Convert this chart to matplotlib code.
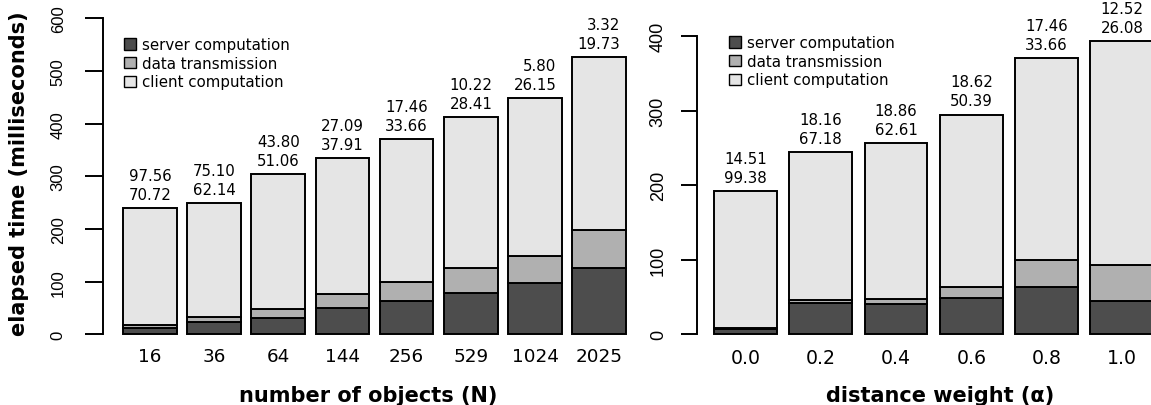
import numpy as np
import matplotlib
matplotlib.use("Agg")
import matplotlib.pyplot as plt
from matplotlib.patches import Patch

W, H = 1151, 406

COLORS = {"server": "#4d4d4d", "trans": "#b0b0b0", "client": "#e5e5e5"}
LABELS = {"server": "server computation", "trans": "data transmission",
          "client": "client computation"}

# elapsed time per stage (ms) while varying the number of objects
N_NAMES = ["16", "36", "64", "144", "256", "529", "1024", "2025"]
N_SERVER = [12.5, 23.5, 31.5, 49.5, 64.0, 78.0, 97.0, 125.0]
N_TRANS = [5.0, 10.0, 16.5, 27.5, 36.0, 47.0, 52.0, 72.5]
N_CLIENT = [222.5, 215.5, 256.5, 257.0, 271.0, 288.0, 299.0, 328.5]
N_TOP = ["97.56", "75.10", "43.80", "27.09", "17.46", "10.22", "5.80", "3.32"]
N_BOTTOM = ["70.72", "62.14", "51.06", "37.91", "33.66", "28.41", "26.15", "19.73"]

# elapsed time per stage (ms) while varying the distance weight
A_NAMES = ["0.0", "0.2", "0.4", "0.6", "0.8", "1.0"]
A_SERVER = [7.5, 42.0, 41.0, 48.5, 64.0, 44.5]
A_TRANS = [1.0, 3.5, 7.0, 15.5, 36.0, 48.0]
A_CLIENT = [183.5, 199.0, 208.5, 231.0, 271.0, 301.0]
A_TOP = ["14.51", "18.16", "18.86", "18.62", "17.46", "12.52"]
A_BOTTOM = ["99.38", "67.18", "62.61", "50.39", "33.66", "26.08"]


def px(x0, y0, x1, y1):
    # pixel box (top-left origin) -> figure fraction rect
    return [x0 / W, 1 - y1 / H, (x1 - x0) / W, (y1 - y0) / H]


def stacked(ax, names, server, trans, client, top, bottom, ymax,
            tick_len, tick_pad, ytick_size, legend_xy):
    server, trans, client = map(np.asarray, (server, trans, client))
    x = np.arange(len(names)) * 1.2
    kw = dict(width=1.0, edgecolor="black", linewidth=1.4)
    ax.bar(x, server, color=COLORS["server"], **kw)
    ax.bar(x, trans, bottom=server, color=COLORS["trans"], **kw)
    ax.bar(x, client, bottom=server + trans, color=COLORS["client"], **kw)

    total = server + trans + client
    for xi, t, a, b in zip(x, total, top, bottom):
        ax.annotate(f"{a}\n{b}", (xi, t), xytext=(0, 4.5), textcoords="offset points",
                    ha="center", va="bottom", multialignment="right",
                    fontsize=10.8, linespacing=1.33, annotation_clip=False)

    ext = 0.04 * (x[-1] - x[0] + 1)
    ax.set_xlim(x[0] - 0.5 - ext, x[-1] + 0.5 + ext)
    ax.set_ylim(-4, ymax * 1.04)
    ax.set_xticks(x, names, fontsize=13.2)
    ax.tick_params(axis="x", length=0, pad=7.5)

    yt = np.arange(0, ymax + 1, 100)
    ax.set_yticks(yt, [str(v) for v in yt], rotation=90, va="center",
                  fontfamily="Liberation Sans", fontsize=ytick_size)
    ax.tick_params(axis="y", length=tick_len, width=1.4, pad=tick_pad)
    ax.spines["left"].set_bounds(0, ymax)
    ax.spines["left"].set_linewidth(1.4)
    for s in ("top", "right", "bottom"):
        ax.spines[s].set_visible(False)

    handles = [Patch(facecolor=COLORS[k], edgecolor="black", linewidth=1.0, label=LABELS[k])
               for k in ("server", "trans", "client")]
    ax.legend(handles=handles, loc="upper left",
              bbox_to_anchor=(legend_xy[0] / W, 1 - legend_xy[1] / H),
              bbox_transform=ax.figure.transFigure, frameon=False, fontsize=10.8,
              borderpad=0, borderaxespad=0, handlelength=0.8, handleheight=0.8,
              handletextpad=0.4, labelspacing=0.25)


def main():
    fig = plt.figure(figsize=(W / 100, H / 100), dpi=100)

    ax1 = fig.add_axes(px(103, 6.7, 646, 337.4))
    stacked(ax1, N_NAMES, N_SERVER, N_TRANS, N_CLIENT, N_TOP, N_BOTTOM, 600,
            tick_len=12.8, tick_pad=14, ytick_size=12, legend_xy=(124, 38))

    ax2 = fig.add_axes(px(696.7, 25.4, 1170.7, 338.3))
    stacked(ax2, A_NAMES, A_SERVER, A_TRANS, A_CLIENT, A_TOP, A_BOTTOM, 400,
            tick_len=11.5, tick_pad=10, ytick_size=13, legend_xy=(729, 36))
    ax2.tick_params(axis="x", labelsize=13.6)

    fig.text(19 / W, 1 - 174 / H, "elapsed time (milliseconds)", rotation=90,
             ha="center", va="center", fontsize=15, fontweight="bold")
    fig.text(368 / W, 1 - 402.5 / H, "number of objects (N)", ha="center",
             va="baseline", fontsize=15, fontweight="bold")
    fig.text(940.5 / W, 1 - 402.5 / H, "distance weight (α)", ha="center",
             va="baseline", fontsize=15, fontweight="bold")

    fig.savefig("out.png", dpi=100)
    plt.close(fig)


if __name__ == "__main__":
    main()
